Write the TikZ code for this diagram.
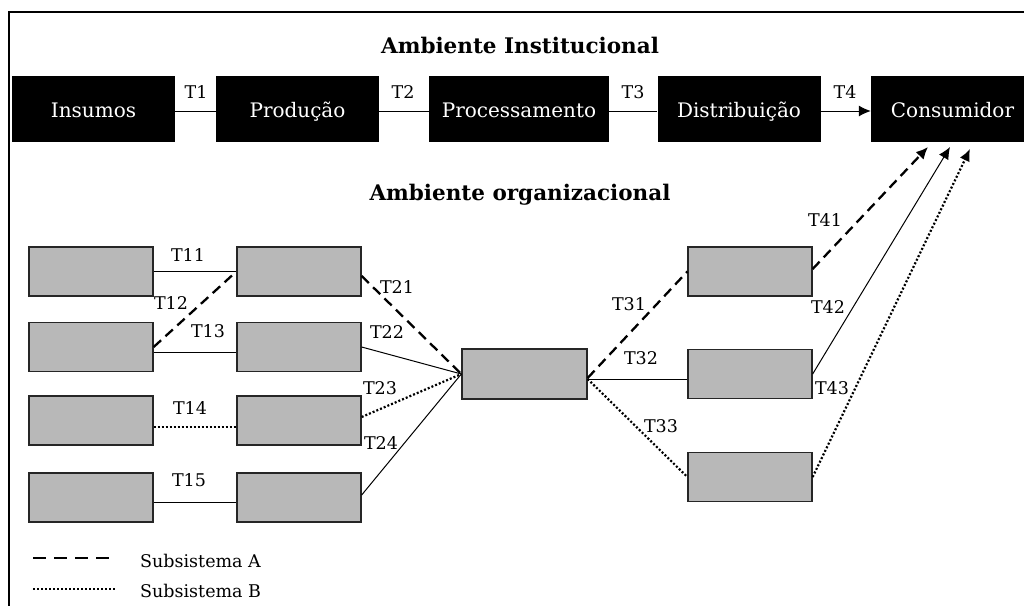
\documentclass[tikz,border=0pt]{standalone}
\usepackage{fontspec}
\setmainfont{DejaVu Serif}
\usetikzlibrary{arrows.meta}
\begin{document}
\begin{tikzpicture}[x=1pt,y=-1pt,
  blackbox/.style={draw=none,fill=black,text=white,minimum height=66pt,inner sep=0pt,
    font=\fontsize{20}{24}\selectfont,text height=16pt,text depth=0pt},
  greybox/.style={draw=black!85,line width=1.3pt,fill=black!28,minimum width=124pt,minimum height=49pt,inner sep=0pt},
  tlab/.style={font=\fontsize{17.5}{20}\selectfont,inner sep=0pt},
  ttl/.style={font=\bfseries\fontsize{21.5}{24}\selectfont,inner sep=0pt,anchor=base},
  solidc/.style={line width=1pt},
  dashc/.style={line width=2.3pt,dash pattern=on 10pt off 6pt},
  dotc/.style={line width=2.2pt,dash pattern=on 2pt off 2pt},
  tipc/.style={-{Latex[length=12pt,width=11pt]}}
]
\clip (0,0) rectangle (1024,605);
\fill[white] (0,0) rectangle (1024,605);
% frame
\draw[line width=1.2pt] (9,615) -- (9,12) -- (1035,12);

% titles
\node[ttl] (t1) at (520,53) {Ambiente Institucional};
\node[ttl] (t2) at (520,200) {Ambiente organizacional};

% chain
\node[blackbox,minimum width=163pt] (ins) at (93.5,109) {Insumos};
\node[blackbox,minimum width=163pt] (pro) at (297.5,109) {Produção};
\node[blackbox,minimum width=180pt] (prc) at (519,109) {Processamento};
\node[blackbox,minimum width=163pt] (dis) at (739,109) {Distribuição};
\node[blackbox,minimum width=163pt] (con) at (952.5,109) {Consumidor};

\draw[solidc] ([yshift=-2pt]ins.east) -- ([yshift=-2pt]pro.west);
\draw[solidc] ([yshift=-2pt]pro.east) -- ([yshift=-2pt]prc.west);
\draw[solidc] ([yshift=-2pt]prc.east) -- ([yshift=-2pt]dis.west);
\draw[solidc,tipc] ([yshift=-2pt]dis.east) -- ([yshift=-2pt]con.west);
\node[tlab] (l1) at (196,92) {T1};
\node[tlab] (l2) at (403,92) {T2};
\node[tlab] (l3) at (633,92) {T3};
\node[tlab] (l4) at (845,92) {T4};

% grey boxes
\node[greybox] (a1) at (91,271.5) {};
\node[greybox] (a2) at (91,347) {};
\node[greybox] (a3) at (91,420.5) {};
\node[greybox] (a4) at (91,497.5) {};
\node[greybox] (b1) at (299,271.5) {};
\node[greybox] (b2) at (299,347) {};
\node[greybox] (b3) at (299,420.5) {};
\node[greybox] (b4) at (299,497.5) {};
\node[greybox,minimum width=125pt,minimum height=50pt] (c) at (524.5,374) {};
\node[greybox] (d1) at (750,271.5) {};
\node[greybox] (d2) at (750,374) {};
\node[greybox] (d3) at (750,477) {};

% first stage
\draw[solidc] (a1.east) -- (b1.west);
\draw[dashc] (a2.east) -- (b1.west);
\draw[solidc] ([yshift=-5pt]a2.east) -- ([yshift=-5pt]b2.west);
\draw[dotc] ([yshift=-6.5pt]a3.east) -- ([yshift=-6.5pt]b3.west);
\draw[solidc] ([yshift=-4.5pt]a4.east) -- ([yshift=-4.5pt]b4.west);
\node[tlab] (l11) at (188,255) {T11};
\node[tlab] (l12) at (171,303) {T12};
\node[tlab] (l13) at (208,331) {T13};
\node[tlab] (l14) at (190,408) {T14};
\node[tlab] (l15) at (189,480) {T15};

% second stage
\draw[dashc] ([yshift=-4.5pt]b1.east) -- (c.west);
\draw[solidc] (b2.east) -- (c.west);
\draw[dotc] ([yshift=3.5pt]b3.east) -- (c.west);
\draw[solidc] ([yshift=2.5pt]b4.east) -- (c.west);
\node[tlab] (l21) at (397,287) {T21};
\node[tlab] (l22) at (387,332) {T22};
\node[tlab] (l23) at (380,388) {T23};
\node[tlab] (l24) at (381,443) {T24};

% third stage
\draw[dashc] ([yshift=-4pt]c.east) -- (d1.west);
\draw[solidc] ([yshift=-5pt]c.east) -- ([yshift=-5pt]d2.west);
\draw[dotc] ([yshift=-5pt]c.east) -- (d3.west);
\node[tlab] (l31) at (629,304) {T31};
\node[tlab] (l32) at (641,358) {T32};
\node[tlab] (l33) at (661,426) {T33};

% to consumer
\coordinate (e41) at (928,147);
\coordinate (e42) at (950,147);
\coordinate (e43) at (970,149);
\draw[dashc,tipc] ([yshift=2.5pt]d1.east) -- (e41);
\draw[solidc,tipc] (d2.east) -- (e42);
\draw[dotc,tipc] (d3.east) -- (e43);
\node[tlab] (l41) at (825,220) {T41};
\node[tlab] (l42) at (828,307) {T42};
\node[tlab] (l43) at (832,388) {T43};

% legend
\coordinate (la1) at (33,558);
\coordinate (la2) at (110,558);
\coordinate (lb1) at (33,589);
\coordinate (lb2) at (116,589);
\draw[line width=2.6pt,dash pattern=on 13pt off 8pt] (la1) -- (la2);
\draw[line width=2pt,dash pattern=on 2pt off 2pt] (lb1) -- (lb2);
\node[font=\fontsize{17.5}{20}\selectfont,inner sep=0pt,anchor=base west] (sa) at (140,567) {Subsistema A};
\node[font=\fontsize{17.5}{20}\selectfont,inner sep=0pt,anchor=base west] (sb) at (140,597) {Subsistema B};
\end{tikzpicture}
\end{document}
